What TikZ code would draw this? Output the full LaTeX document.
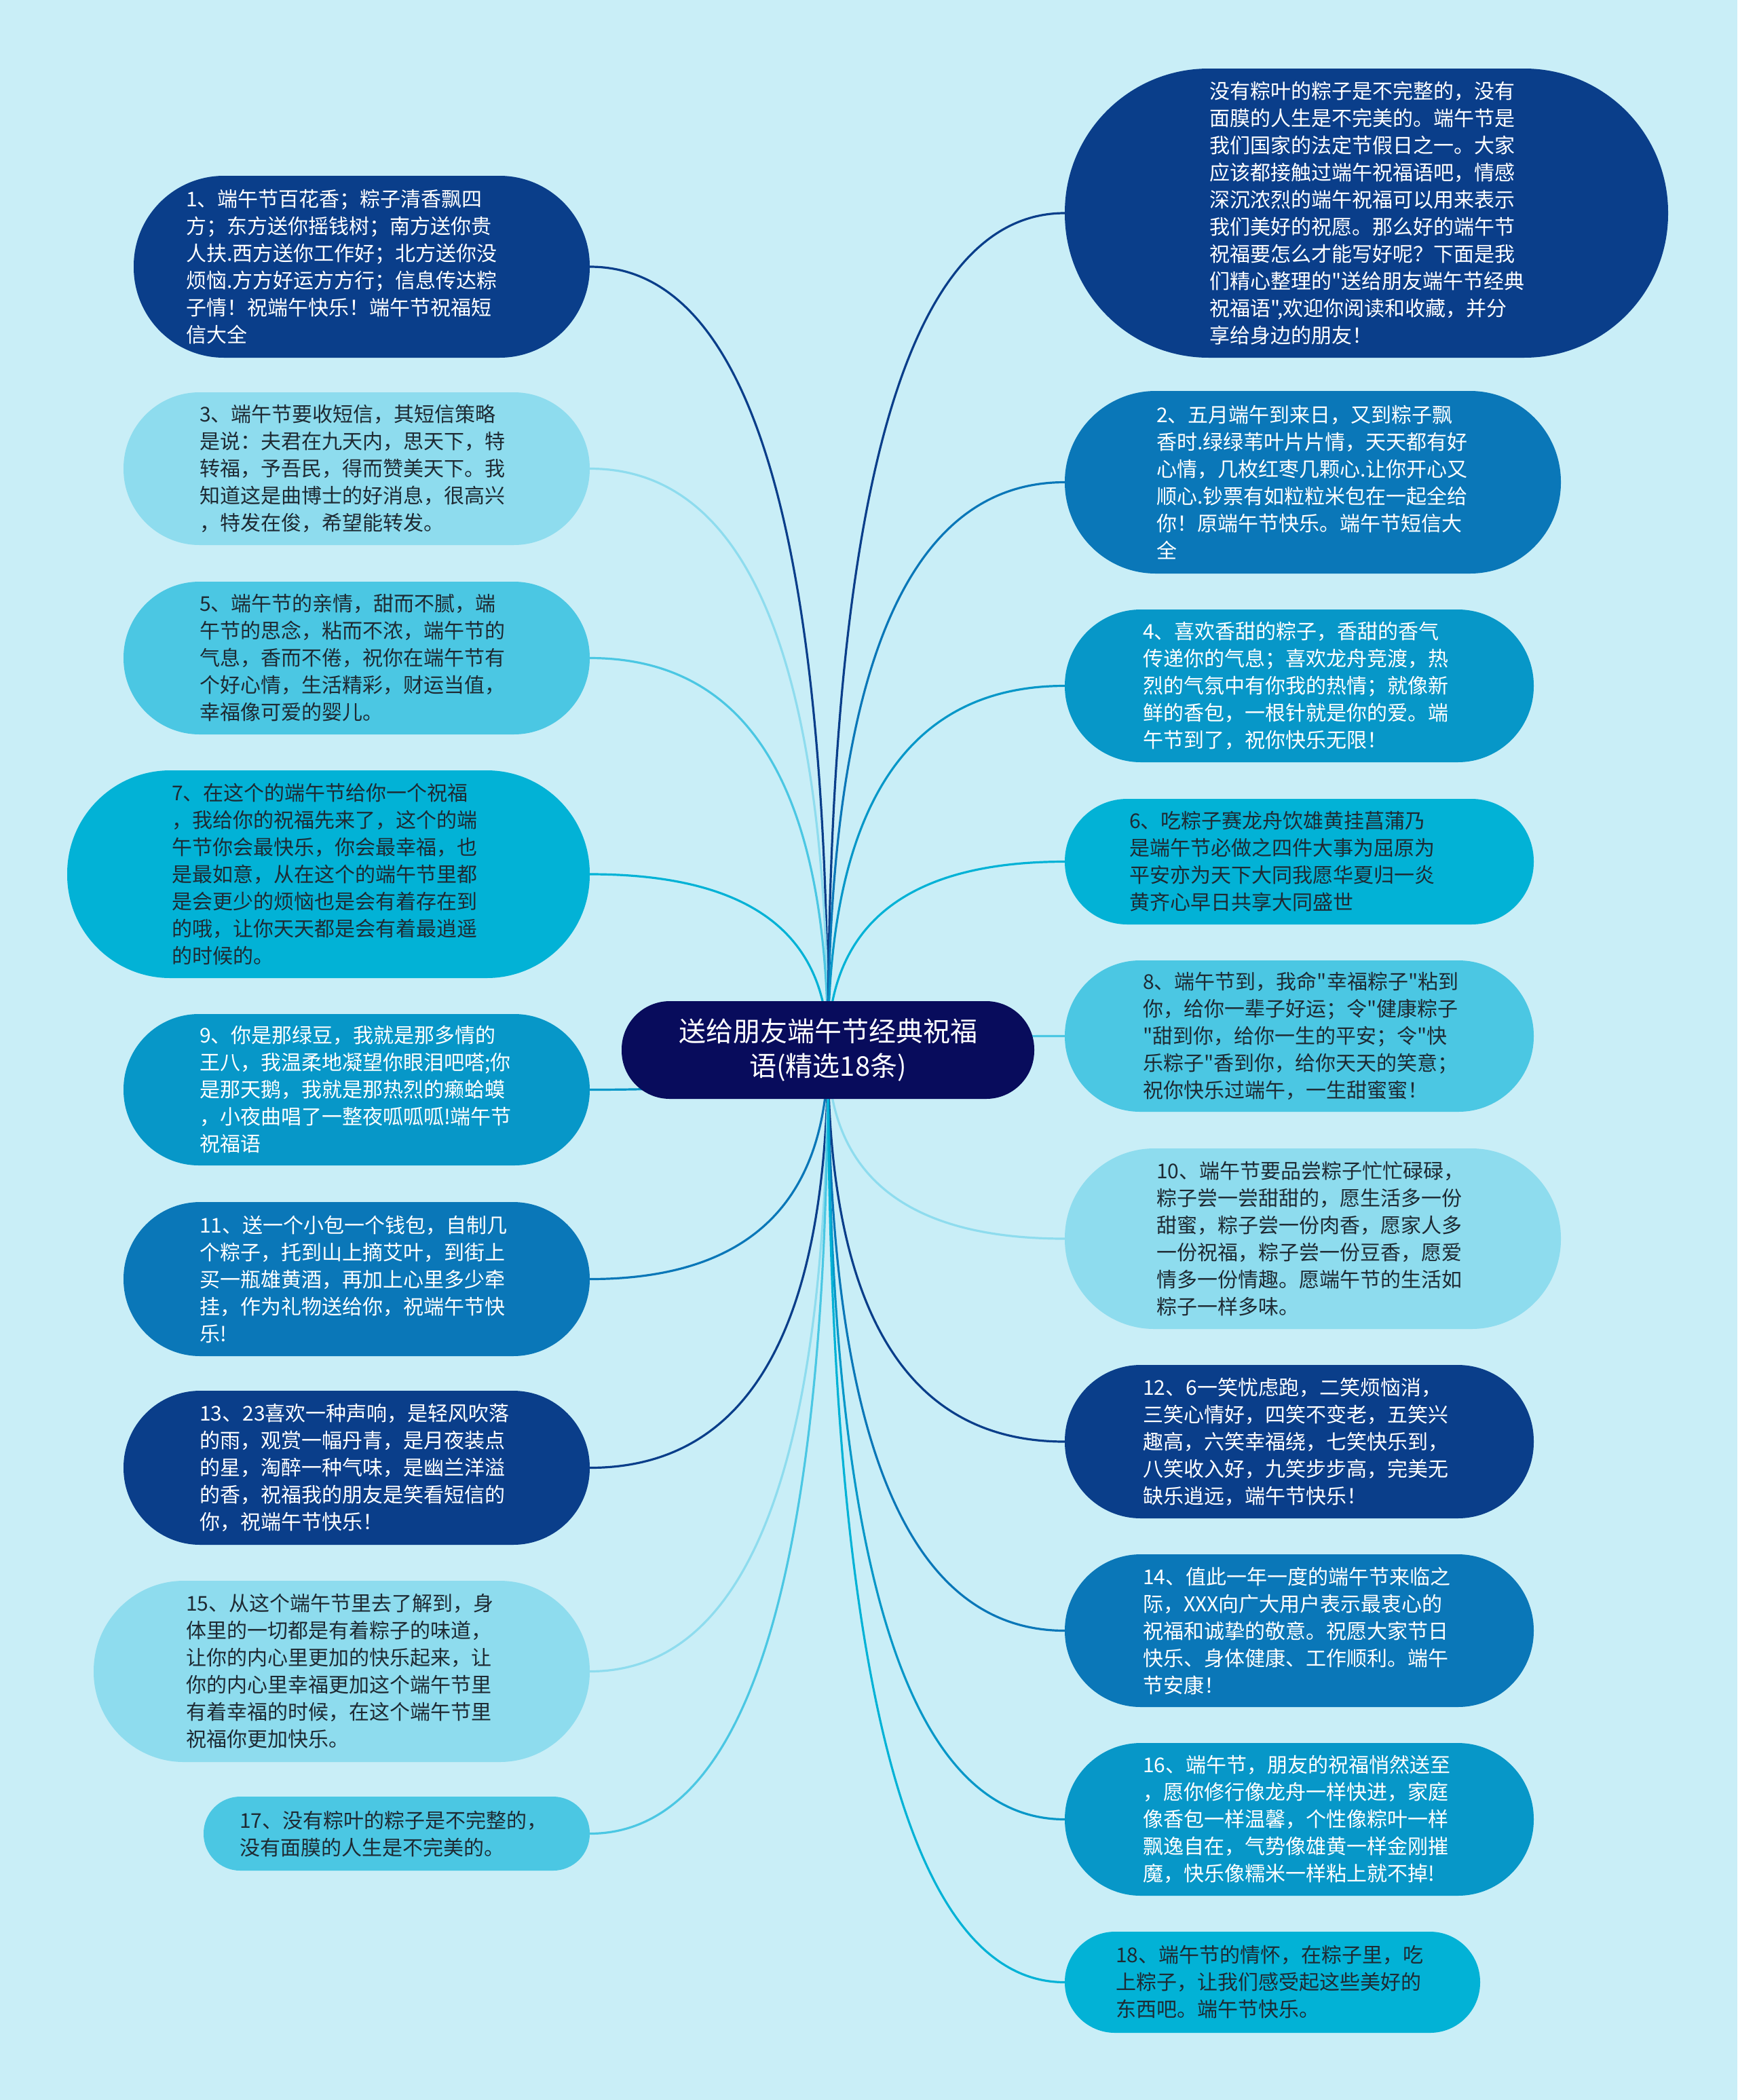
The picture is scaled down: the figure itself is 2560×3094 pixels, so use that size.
\documentclass[tikz,border=0pt]{standalone}
\usepackage{fontspec}
\newfontfamily\cjk{Noto Sans CJK SC}
\usetikzlibrary{calc,backgrounds}
\definecolor{bgc}{HTML}{C9EEF7}
\definecolor{navy}{HTML}{080C5C}
\definecolor{dkblue}{HTML}{0A3E8A}
\definecolor{midblue}{HTML}{0A77B8}
\definecolor{midtwo}{HTML}{0797C8}
\definecolor{cyanb}{HTML}{02B2D6}
\definecolor{lightb}{HTML}{4BC7E3}
\definecolor{paleb}{HTML}{8EDCEE}
\definecolor{darktxt}{HTML}{1E2A33}
\tikzset{
  pill/.style n args={4}{shape=rectangle, fill=#1, draw=none, inner sep=0pt,
     minimum width=#2, minimum height=#3, rounded corners=#4},
  txt/.style={anchor=west, align=left, inner sep=0pt, font=\cjk\fontsize{30}{40}\selectfont},
  wtxt/.style={txt, text=white},
  dtxt/.style={txt, text=darktxt},
  conn/.style={line width=3.2pt, line cap=round}
}
\newcommand\mmlink[3]{\draw[conn, draw=#3] (#1) .. controls ($(#1)!0.667!(#1 |- #2)$) and ($(#2)!0.667!(#1 |- #2)$) .. (#2);}
\begin{document}
\begin{tikzpicture}[x=1pt,y=-1pt]
\path[use as bounding box] (0,0) rectangle (2560,3094);
% center
\node[pill={navy}{608pt}{144pt}{71pt}] (ctr) at (1220,1547) {};
\node[align=center, inner sep=0pt, text=white, font=\cjk\fontsize{40}{51}\selectfont] (ctrt) at (1220,1547) {送给朋友端午节经典祝福\\语(精选18条)};
\coordinate (hub) at (1220,1547);
% left column
\node[pill={dkblue}{672pt}{268pt}{133pt}] (n1) at (533,393) {};
\node[wtxt] (t1) at (274,393) {1、端午节百花香；粽子清香飘四\\方；东方送你摇钱树；南方送你贵\\人扶.西方送你工作好；北方送你没\\烦恼.方方好运方方行；信息传达粽\\子情！祝端午快乐！端午节祝福短\\信大全};
\node[pill={paleb}{687pt}{225pt}{112pt}] (n3) at (525.5,690.5) {};
\node[dtxt] (t3) at (294,690.5) {3、端午节要收短信，其短信策略\\是说：夫君在九天内，思天下，特\\转福，予吾民，得而赞美天下。我\\知道这是曲博士的好消息，很高兴\\，特发在俊，希望能转发。};
\node[pill={lightb}{687pt}{225pt}{112pt}] (n5) at (525.5,969.5) {};
\node[dtxt] (t5) at (294,969.5) {5、端午节的亲情，甜而不腻，端\\午节的思念，粘而不浓，端午节的\\气息，香而不倦，祝你在端午节有\\个好心情，生活精彩，财运当值，\\幸福像可爱的婴儿。};
\node[pill={cyanb}{770pt}{306pt}{152pt}] (n7) at (484,1288) {};
\node[dtxt] (t7) at (253,1288) {7、在这个的端午节给你一个祝福\\，我给你的祝福先来了，这个的端\\午节你会最快乐，你会最幸福，也\\是最如意，从在这个的端午节里都\\是会更少的烦恼也是会有着存在到\\的哦，让你天天都是会有着最逍遥\\的时候的。};
\node[pill={midtwo}{687pt}{223pt}{111pt}] (n9) at (525.5,1605.5) {};
\node[wtxt] (t9) at (294,1605.5) {9、你是那绿豆，我就是那多情的\\王八，我温柔地凝望你眼泪吧嗒;你\\是那天鹅，我就是那热烈的癞蛤蟆\\，小夜曲唱了一整夜呱呱呱!端午节\\祝福语};
\node[pill={midblue}{687pt}{227pt}{113pt}] (n11) at (525.5,1884.5) {};
\node[wtxt] (t11) at (294,1884.5) {11、送一个小包一个钱包，自制几\\个粽子，托到山上摘艾叶，到街上\\买一瓶雄黄酒，再加上心里多少牵\\挂，作为礼物送给你，祝端午节快\\乐!};
\node[pill={dkblue}{687pt}{227pt}{113pt}] (n13) at (525.5,2162.5) {};
\node[wtxt] (t13) at (294,2162.5) {13、23喜欢一种声响，是轻风吹落\\的雨，观赏一幅丹青，是月夜装点\\的星，淘醉一种气味，是幽兰洋溢\\的香，祝福我的朋友是笑看短信的\\你，祝端午节快乐！};
\node[pill={paleb}{731pt}{267pt}{133pt}] (n15) at (503.5,2462.5) {};
\node[dtxt] (t15) at (274,2462.5) {15、从这个端午节里去了解到，身\\体里的一切都是有着粽子的味道，\\让你的内心里更加的快乐起来，让\\你的内心里幸福更加这个端午节里\\有着幸福的时候，在这个端午节里\\祝福你更加快乐。};
\node[pill={lightb}{569pt}{109pt}{54pt}] (n17) at (584.5,2701.5) {};
\node[dtxt] (t17) at (353,2701.5) {17、没有粽叶的粽子是不完整的，\\没有面膜的人生是不完美的。};
% right column
\node[pill={dkblue}{889pt}{426pt}{212pt}] (n0) at (2013.5,314) {};
\node[wtxt] (t0) at (1782,314) {没有粽叶的粽子是不完整的，没有\\面膜的人生是不完美的。端午节是\\我们国家的法定节假日之一。大家\\应该都接触过端午祝福语吧，情感\\深沉浓烈的端午祝福可以用来表示\\我们美好的祝愿。那么好的端午节\\祝福要怎么才能写好呢？下面是我\\们精心整理的"送给朋友端午节经典\\祝福语",欢迎你阅读和收藏，并分\\享给身边的朋友！};
\node[pill={midblue}{731pt}{269pt}{134pt}] (n2) at (1934.5,710.5) {};
\node[wtxt] (t2) at (1704,710.5) {2、五月端午到来日，又到粽子飘\\香时.绿绿苇叶片片情，天天都有好\\心情，几枚红枣几颗心.让你开心又\\顺心.钞票有如粒粒米包在一起全给\\你！原端午节快乐。端午节短信大\\全};
\node[pill={midtwo}{691pt}{225pt}{112pt}] (n4) at (1914.5,1010.5) {};
\node[wtxt] (t4) at (1684,1010.5) {4、喜欢香甜的粽子，香甜的香气\\传递你的气息；喜欢龙舟竞渡，热\\烈的气氛中有你我的热情；就像新\\鲜的香包，一根针就是你的爱。端\\午节到了，祝你快乐无限！};
\node[pill={cyanb}{691pt}{185pt}{92pt}] (n6) at (1914.5,1269.5) {};
\node[dtxt] (t6) at (1664,1269.5) {6、吃粽子赛龙舟饮雄黄挂菖蒲乃\\是端午节必做之四件大事为屈原为\\平安亦为天下大同我愿华夏归一炎\\黄齐心早日共享大同盛世};
\node[pill={lightb}{691pt}{223pt}{111pt}] (n8) at (1914.5,1526.5) {};
\node[dtxt] (t8) at (1684,1526.5) {8、端午节到，我命"幸福粽子"粘到\\你，给你一辈子好运；令"健康粽子\\"甜到你，给你一生的平安；令"快\\乐粽子"香到你，给你天天的笑意；\\祝你快乐过端午，一生甜蜜蜜！};
\node[pill={paleb}{731pt}{266pt}{132pt}] (n10) at (1934.5,1825) {};
\node[dtxt] (t10) at (1704,1825) {10、端午节要品尝粽子忙忙碌碌，\\粽子尝一尝甜甜的，愿生活多一份\\甜蜜，粽子尝一份肉香，愿家人多\\一份祝福，粽子尝一份豆香，愿爱\\情多一份情趣。愿端午节的生活如\\粽子一样多味。};
\node[pill={dkblue}{691pt}{226pt}{112pt}] (n12) at (1914.5,2124) {};
\node[wtxt] (t12) at (1684,2124) {12、6一笑忧虑跑，二笑烦恼消，\\三笑心情好，四笑不变老，五笑兴\\趣高，六笑幸福绕，七笑快乐到，\\八笑收入好，九笑步步高，完美无\\缺乐逍远，端午节快乐！};
\node[pill={midblue}{691pt}{225pt}{112pt}] (n14) at (1914.5,2402.5) {};
\node[wtxt] (t14) at (1684,2402.5) {14、值此一年一度的端午节来临之\\际，XXX向广大用户表示最衷心的\\祝福和诚挚的敬意。祝愿大家节日\\快乐、身体健康、工作顺利。端午\\节安康！};
\node[pill={midtwo}{691pt}{225pt}{112pt}] (n16) at (1914.5,2680.5) {};
\node[wtxt] (t16) at (1684,2680.5) {16、端午节，朋友的祝福悄然送至\\，愿你修行像龙舟一样快进，家庭\\像香包一样温馨，个性像粽叶一样\\飘逸自在，气势像雄黄一样金刚摧\\魔，快乐像糯米一样粘上就不掉!};
\node[pill={cyanb}{612pt}{149pt}{74pt}] (n18) at (1875,2920.5) {};
\node[dtxt] (t18) at (1644,2920.5) {18、端午节的情怀，在粽子里，吃\\上粽子，让我们感受起这些美好的\\东西吧。端午节快乐。};
% background and connectors
\begin{scope}[on background layer]
\fill[bgc] (0,0) rectangle (2560,3094);
\mmlink{hub}{n1.east}{dkblue}
\mmlink{hub}{n3.east}{paleb}
\mmlink{hub}{n5.east}{lightb}
\mmlink{hub}{n7.east}{cyanb}
\mmlink{hub}{n9.east}{midtwo}
\mmlink{hub}{n11.east}{midblue}
\mmlink{hub}{n13.east}{dkblue}
\mmlink{hub}{n15.east}{paleb}
\mmlink{hub}{n17.east}{lightb}
\mmlink{hub}{n0.west}{dkblue}
\mmlink{hub}{n2.west}{midblue}
\mmlink{hub}{n4.west}{midtwo}
\mmlink{hub}{n6.west}{cyanb}
\mmlink{hub}{n8.west}{lightb}
\mmlink{hub}{n10.west}{paleb}
\mmlink{hub}{n12.west}{dkblue}
\mmlink{hub}{n14.west}{midblue}
\mmlink{hub}{n16.west}{midtwo}
\mmlink{hub}{n18.west}{cyanb}
\end{scope}
\end{tikzpicture}
\end{document}
